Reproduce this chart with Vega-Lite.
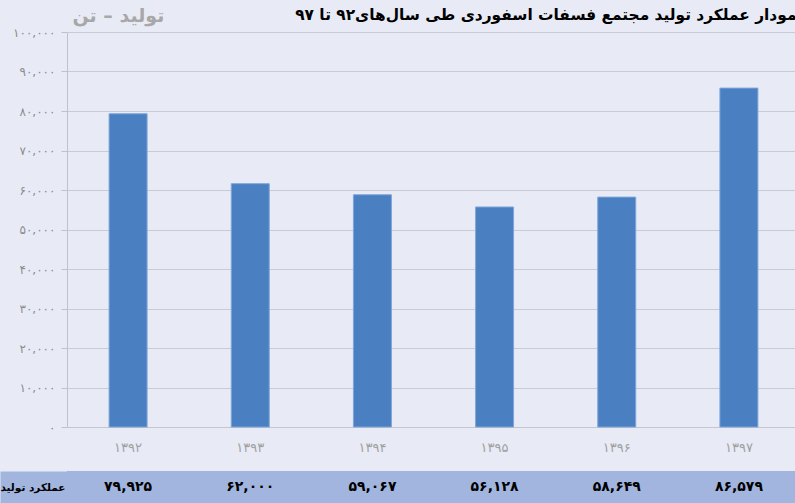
{
  "$schema": "https://vega.github.io/schema/vega-lite/v6.json",
  "background": "#e8ebf6",
  "padding": {"left": -16, "top": 6, "right": 0, "bottom": 0},
  "config": {
    "view": {"stroke": null},
    "font": "DejaVu Sans",
    "concat": {"spacing": 17}
  },
  "datasets": {
    "d": [
      {"year": "۱۳۹۲", "production": 79300, "table_text": "۷۹,۹۲۵", "row": "عملکرد تولید"},
      {"year": "۱۳۹۳", "production": 61600, "table_text": "۶۲,۰۰۰", "row": "عملکرد تولید"},
      {"year": "۱۳۹۴", "production": 58800, "table_text": "۵۹,۰۶۷", "row": "عملکرد تولید"},
      {"year": "۱۳۹۵", "production": 55700, "table_text": "۵۶,۱۲۸", "row": "عملکرد تولید"},
      {"year": "۱۳۹۶", "production": 58200, "table_text": "۵۸,۶۴۹", "row": "عملکرد تولید"},
      {"year": "۱۳۹۷", "production": 85800, "table_text": "۸۶,۵۷۹", "row": "عملکرد تولید"}
    ]
  },
  "vconcat": [
    {
      "width": 733,
      "height": 395,
      "title": {
        "text": "نمودار عملکرد تولید مجتمع فسفات اسفوردی طی سال‌های۹۲ تا ۹۷",
        "anchor": "end",
        "frame": "group",
        "fontSize": 15.4,
        "fontWeight": "bold",
        "color": "#000000",
        "dx": 3,
        "offset": -17
      },
      "data": {"name": "d"},
      "mark": {"type": "bar", "color": "#4a7fc1", "stroke": "#7ea6da", "strokeWidth": 1},
      "encoding": {
        "x": {
          "field": "year",
          "type": "nominal",
          "sort": null,
          "scale": {"paddingInner": 0.689, "paddingOuter": 0.3445},
          "axis": {
            "title": null,
            "labelAngle": 0,
            "ticks": false,
            "domain": true,
            "domainColor": "#c4c6cc",
            "labelColor": "#a0a0a0",
            "labelFontSize": 13,
            "labelPadding": 14,
            "grid": false
          }
        },
        "y": {
          "field": "production",
          "type": "quantitative",
          "scale": {"domain": [0, 100000]},
          "axis": {
            "values": [0, 10000, 20000, 30000, 40000, 50000, 60000, 70000, 80000, 90000, 100000],
            "format": ",d",
            "labelExpr": "replace(replace(replace(replace(replace(replace(replace(replace(replace(replace(datum.label,regexp('0','g'),'۰'),regexp('1','g'),'۱'),regexp('2','g'),'۲'),regexp('3','g'),'۳'),regexp('4','g'),'۴'),regexp('5','g'),'۵'),regexp('6','g'),'۶'),regexp('7','g'),'۷'),regexp('8','g'),'۸'),regexp('9','g'),'۹')",
            "grid": true,
            "gridColor": "#c9cbd3",
            "tickColor": "#c0c2c8",
            "tickSize": 6,
            "domainColor": "#c0c2c8",
            "labelColor": "#8c8c8c",
            "labelFontSize": 12,
            "labelPadding": 6,
            "title": "تولید – تن",
            "titleAngle": 0,
            "titleX": 5,
            "titleY": -17,
            "titleAlign": "left",
            "titleBaseline": "middle",
            "titleColor": "#a8a8a8",
            "titleFontSize": 19,
            "titleFontWeight": "bold"
          }
        }
      }
    },
    {
      "width": 733,
      "height": 32,
      "view": {"fill": "#a2b5de", "stroke": null},
      "data": {"name": "d"},
      "mark": {"type": "text", "fontWeight": "bold", "fontSize": 14, "color": "#000000"},
      "encoding": {
        "x": {
          "field": "year",
          "type": "nominal",
          "sort": null,
          "scale": {"paddingInner": 0.689, "paddingOuter": 0.3445},
          "axis": null
        },
        "y": {
          "field": "row",
          "type": "nominal",
          "axis": {
            "title": null,
            "domain": false,
            "ticks": true,
            "tickSize": 67,
            "tickWidth": 32,
            "tickColor": "#a2b5de",
            "labelPadding": -65,
            "labelColor": "#000000",
            "labelFontWeight": "bold",
            "labelFontSize": 10.5,
            "grid": false
          }
        },
        "text": {"field": "table_text"}
      }
    }
  ]
}
